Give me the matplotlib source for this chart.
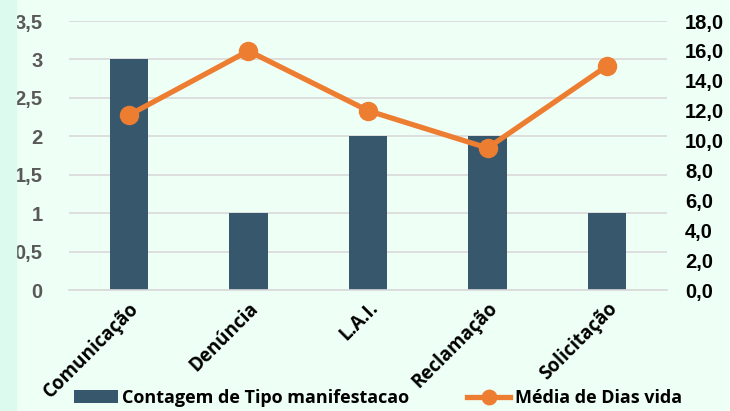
import matplotlib.pyplot as plt
from matplotlib.font_manager import FontProperties
import numpy as np

categorias = ['Comunicação', 'Denúncia', 'L.A.I.', 'Reclamação', 'Solicitação']
contagem = [3, 1, 2, 2, 1]
media_dias = [11.7, 16.0, 12.0, 9.5, 15.0]

left_ticks = [0, 0.5, 1, 1.5, 2, 2.5, 3, 3.5]
left_labels = ['0', '0,5', '1', '1,5', '2', '2,5', '3', '3,5']
right_ticks = [0, 2, 4, 6, 8, 10, 12, 14, 16, 18]
right_labels = [('%.1f' % v).replace('.', ',') for v in right_ticks]

bg = '#eefff5'
bar_color = '#37586c'
line_color = '#ed7d31'

plt.rcParams['font.family'] = ['Open Sans', 'DejaVu Sans']
tick_font = FontProperties(family='Liberation Sans', weight='bold', size=14.5)

fig = plt.figure(figsize=(7.3, 4.11), dpi=100)
fig.patch.set_facecolor(bg)
# darker strip at the left edge
fig.patches.append(plt.Rectangle((0, 0), 16 / 730, 1, transform=fig.transFigure,
                                 color='#dcfbee', zorder=0))

ax = fig.add_axes([0.0945, 0.2944, 0.8192, 0.6545])
ax.set_facecolor(bg)
x = np.arange(len(categorias))
bars = ax.bar(x, contagem, width=0.32, color=bar_color, zorder=2,
              label='Contagem de Tipo manifestacao')
ax.set_xlim(-0.5, len(categorias) - 0.5)
ax.set_ylim(0, 3.5)
ax.set_yticks(left_ticks)
ax.set_yticklabels(left_labels, fontproperties=tick_font, color='#595959')
ax.yaxis.grid(True, color='#d9d9d9', linewidth=1.2, zorder=0)
ax.set_axisbelow(True)
for s in ['top', 'right', 'left']:
    ax.spines[s].set_visible(False)
ax.spines['bottom'].set_color('#d9d9d9')
ax.spines['bottom'].set_linewidth(1.2)
ax.tick_params(axis='both', length=0)
ax.tick_params(axis='y', pad=19)
ax.set_xticks(x)
ax.set_xticklabels(categorias, rotation=45, ha='right', rotation_mode='anchor',
                   fontsize=13.5, fontweight='bold', color='black')
ax.tick_params(axis='x', pad=6)

ax2 = ax.twinx()
line, = ax2.plot(x, media_dias, color=line_color, linewidth=3.8, marker='o',
                 markersize=13, zorder=3, label='Média de Dias vida')
ax2.set_ylim(0, 18)
ax2.set_yticks(right_ticks)
ax2.set_yticklabels(right_labels, fontproperties=tick_font, color='black')
ax2.tick_params(axis='y', length=0, pad=13)
for s in ax2.spines.values():
    s.set_visible(False)

leg = fig.legend([bars, line], ['Contagem de Tipo manifestacao', 'Média de Dias vida'],
                 loc='center', bbox_to_anchor=(0.518, 0.032), ncol=2, frameon=False,
                 prop={'weight': 'bold', 'size': 13}, handlelength=2.4,
                 handletextpad=0.25, columnspacing=3.2, markerscale=0.8)

fig.savefig('out.png', dpi=100, facecolor=fig.get_facecolor())
